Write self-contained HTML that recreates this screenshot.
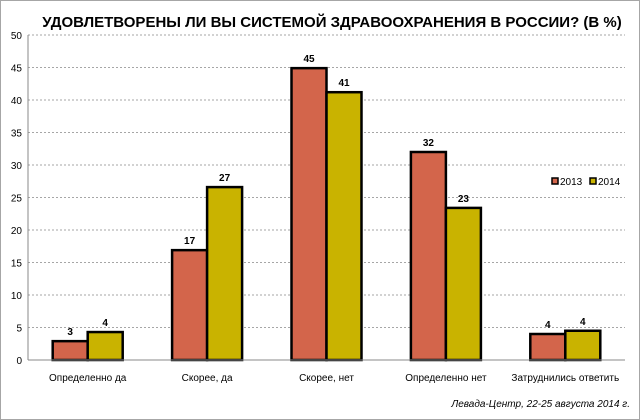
<!DOCTYPE html>
<html><head><meta charset="utf-8"><style>
body{margin:0;background:#fff}
svg{display:block;font-family:"Liberation Sans","DejaVu Sans",sans-serif}
</style></head><body>
<svg id="c" width="640" height="420" viewBox="0 0 640 420">
<rect x="0.5" y="0.5" width="639" height="419" fill="#fff" stroke="#a6a6a6"/>
<text x="332" y="27" text-anchor="middle" font-size="15" font-weight="bold" fill="#000">УДОВЛЕТВОРЕНЫ ЛИ ВЫ СИСТЕМОЙ ЗДРАВООХРАНЕНИЯ В РОССИИ? (В %)</text>
<g id="grid"></g><g id="bars"></g><g id="axes"></g>
<g>
<rect x="552" y="178" width="6" height="6" fill="#d3654b" stroke="#000" stroke-width="1.5"/>
<text x="560" y="185" font-size="10" fill="#000">2013</text>
<rect x="590" y="178" width="6" height="6" fill="#c9b300" stroke="#000" stroke-width="1.5"/>
<text x="598" y="185" font-size="10" fill="#000">2014</text>
</g>
<text x="630" y="407" text-anchor="end" font-size="10" font-style="italic" fill="#000">Левада-Центр, 22-25 августа 2014 г.</text>
</svg>
<script>
const categories=["Определенно да","Скорее, да","Скорее, нет","Определенно нет","Затруднились ответить"];
const values2013=[2.9,16.9,44.9,32,4];
const values2014=[4.3,26.6,41.2,23.4,4.5];
const labels2013=["3","17","45","32","4"];
const labels2014=["4","27","41","23","4"];
const yTicks=[0,5,10,15,20,25,30,35,40,45,50];
const NS="http://www.w3.org/2000/svg";
const x0=28,x1=625,y0=360,y1=35,yMax=50;
const y=v=>y0-(v/yMax)*(y0-y1);
const bw=(x1-x0)/categories.length;
const cx=i=>x0+bw*(i+0.5);
function mk(t,a,p){const e=document.createElementNS(NS,t);for(const k in a)e.setAttribute(k,a[k]);p.appendChild(e);return e;}
const G=document.getElementById('grid'),B=document.getElementById('bars'),A=document.getElementById('axes');
yTicks.forEach(v=>{
 if(v>0){const l=mk('line',{x1:x0,x2:x1,y1:y(v),y2:y(v),stroke:'#a6a6a6','stroke-dasharray':'2,2'},G);
 
 }
 const t=mk('text',{x:x0-6,y:y(v)+4,'text-anchor':'end','font-size':'10',fill:'#000'},A);
 t.textContent=v;
 
 
});
const ax=mk('line',{x1:x0,x2:x0,y1:y1,y2:y0,stroke:'#888'},A);


const xa=mk('line',{x1:x0,x2:x1,y1:y0,y2:y0,stroke:'#888'},A);


const w=35;
categories.forEach((c,i)=>{
 [[values2013,labels2013,'#d3654b',-w,'2013'],[values2014,labels2014,'#c9b300',0,'2014']].forEach(s=>{
  const v=s[0][i],bx=cx(i)+s[3];
  const r=mk('rect',{x:bx,y:y(v),width:w,height:y0-y(v),fill:s[2],stroke:'#000','stroke-width':'2.5'},B);
  
  
  const t=mk('text',{x:bx+w/2,y:y(v)-6,'text-anchor':'middle','font-size':'10','font-weight':'bold',fill:'#000'},B);
  t.textContent=s[1][i];
  
  
 });
 const t=mk('text',{x:cx(i),y:381,'text-anchor':'middle','font-size':'10',fill:'#000'},A);
 t.textContent=c;
 
 
});
</script>
</body></html>
